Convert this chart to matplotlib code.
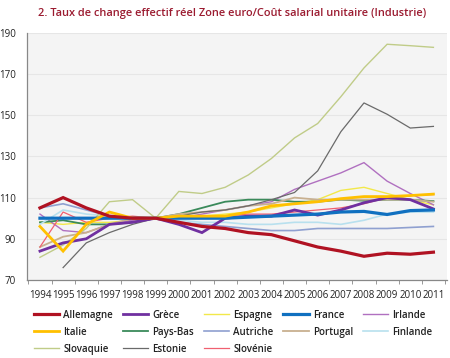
import matplotlib
matplotlib.use("Agg")
import matplotlib.pyplot as plt
import numpy as np

years = [str(y) for y in range(1994, 2012)]

allemagne = [105, 110, 105, 101, 100, 100, 98, 96, 95, 93, 92, 89, 86, 84, 81.5, 83, 82.5, 83.5]
grece = [84, 88, 90, 97, 98, 100, 97, 93, 100, 101, 101, 104, 101.5, 104, 107.5, 110, 109, 104.5]
espagne = [98, 97, 98, 98, 99, 100, 101, 101, 102, 103, 105, 107, 109, 113.5, 115, 112, 109, 106.5]
france = [100, 100, 100, 100, 100, 100, 100, 100, 100, 100.5, 101, 101.5, 102, 103, 103.3, 101.8, 103.7, 104]
irlande = [102, 94, 93, 97, 99, 100, 100, 102, 104, 106, 108, 114, 118, 122, 127, 118, 112, 106.5]
italie = [96, 84, 97, 103, 100, 100, 101, 101, 101, 103, 106, 107, 108, 109.5, 110.5, 110.5, 111, 111.7]
pays_bas = [98, 99, 97, 97, 98, 100, 102, 105, 108, 109, 109, 108, 108, 109, 108.5, 109, 109, 108.3]
autriche = [105, 107, 104, 101, 100, 100, 98, 97, 96, 95, 94, 94, 95, 95, 95, 95, 95.5, 96]
portugal = [86, 91, 93, 97, 100, 100, 102, 103, 104, 106, 107, 110, 109, 109, 109, 109, 109, 108]
finlande = [97, 104, 102, 101, 100, 100, 99, 98, 98, 97, 97, 98, 98, 97, 99, 102, 103, 103]
slovaquie = [81, 87, 95, 108, 109, 100, 113, 112, 115, 121, 129, 139, 146, 159, 173, 184.5, 183.8, 183]
estonie = [None, 76, 88, 93, 97, 100, 101, 103, 104, 106, 109, 112.5, 123, 142, 156, 150.5, 143.8, 144.6]
slovenie = [86, 103, 98, 100, 101, 100, 100, 101, 101, 102, 102, 103, 104, 105, 107, 110, 111, 111.5]

series = [
    ("Allemagne", allemagne, "#b01222", 2.3),
    ("Grèce", grece, "#7030a0", 2.0),
    ("Espagne", espagne, "#f2e84a", 1.0),
    ("France", france, "#1070c0", 2.3),
    ("Irlande", irlande, "#b070c0", 1.0),
    ("Italie", italie, "#ffc000", 2.0),
    ("Pays-Bas", pays_bas, "#3a8a5a", 1.3),
    ("Autriche", autriche, "#8fa0d0", 1.2),
    ("Portugal", portugal, "#c8b090", 1.3),
    ("Finlande", finlande, "#b8e0ee", 1.2),
    ("Slovaquie", slovaquie, "#c0cc88", 1.0),
    ("Estonie", estonie, "#6a6a6a", 0.9),
    ("Slovénie", slovenie, "#f06070", 0.9),
]

plt.rcParams['font.family'] = ['Open Sans', 'DejaVu Sans']

fig = plt.figure(figsize=(4.5, 3.58), dpi=100)
ax = fig.add_axes([0.06, 0.218, 0.934, 0.690])
ax.set_facecolor("#f4f4f4")

x = np.arange(len(years))
handles = {}
zorder_thick = {"Allemagne": 6, "Grèce": 5, "France": 5, "Italie": 5}
for name, vals, col, lw in series:
    v = np.array([np.nan if a is None else a for a in vals], dtype=float)
    ln, = ax.plot(x, v, color=col, lw=lw, label=name,
                  zorder=zorder_thick.get(name, 3), solid_joinstyle='miter')
    handles[name] = ln

ax.set_ylim(70, 190)
ax.set_xlim(-0.56, 17.6)
ax.set_yticks([70, 90, 110, 130, 150, 170, 190])
ax.set_xticks(x)
ax.set_xticklabels(years, fontsize=7.0, color="#222222")
ax.set_xticks(np.arange(-0.5, 17.6, 1), minor=True)
ax.tick_params(axis='x', which='major', length=0, pad=7)
ax.tick_params(axis='x', which='minor', length=3, color="#888888")
ax.tick_params(axis='y', length=0, labelsize=7.0, labelcolor="#222222", pad=8)
ax.grid(axis='y', color="#e6e6e6", lw=0.8, zorder=0)
ax.set_axisbelow(True)
for s in ["top", "right"]:
    ax.spines[s].set_visible(False)
for s in ["left", "bottom"]:
    ax.spines[s].set_color("#888888")
    ax.spines[s].set_linewidth(0.9)

fig.text(0.515, 0.962, "2. Taux de change effectif réel Zone euro/Coût salarial unitaire (Industrie)",
         ha="center", va="center", fontsize=7.9, color="#9b1b30", fontweight="semibold")

# row-wise legend layout -> reorder for matplotlib's column-major fill
rows = [["Allemagne", "Grèce", "Espagne", "France", "Irlande"],
        ["Italie", "Pays-Bas", "Autriche", "Portugal", "Finlande"],
        ["Slovaquie", "Estonie", "Slovénie"]]
order = []
for c in range(5):
    for r in rows:
        if c < len(r):
            order.append(r[c])
leg = fig.legend([handles[n] for n in order], order, loc="lower left",
                 bbox_to_anchor=(0.055, -0.015), ncol=5, frameon=False,
                 fontsize=7, handlelength=2.6, handletextpad=0.45,
                 columnspacing=1.0, labelspacing=0.62,
                 prop={'size': 7, 'weight': 'semibold'})
for t in leg.get_texts():
    t.set_color("#222222")

fig.savefig("out.png", dpi=100)
